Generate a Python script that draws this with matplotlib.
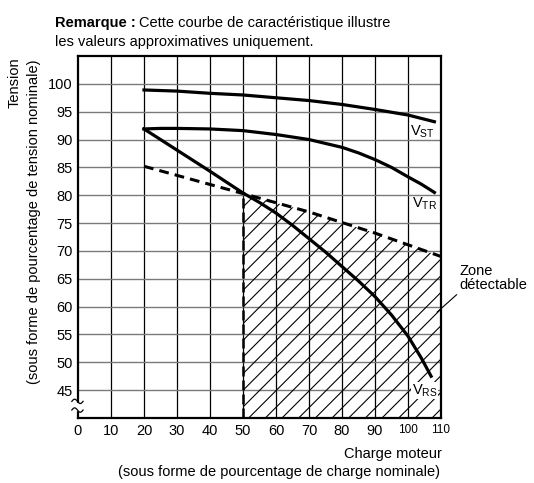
import matplotlib
matplotlib.use("Agg")
import matplotlib.pyplot as plt
import numpy as np

plt.rcParams['font.family'] = ['Liberation Sans', 'DejaVu Sans']
plt.rcParams['hatch.linewidth'] = 0.8

# values (percent of rated load / rated voltage)
st_load = [20, 30, 40, 50, 60, 70, 80, 90, 100, 108]
v_st = [98.9, 98.7, 98.3, 98.0, 97.5, 97.0, 96.3, 95.4, 94.4, 93.2]
tr_load = [20, 25, 30, 40, 50, 60, 70, 80, 85, 90, 95, 100, 104, 108]
v_tr = [91.9, 92.0, 92.0, 91.9, 91.6, 90.9, 90.0, 88.6, 87.6, 86.4, 85.0, 83.3, 82.0, 80.5]
rs_load = [20, 30, 40, 50, 55, 60, 65, 70, 75, 80, 85, 90, 95, 100, 104, 107]
v_rs = [91.9, 88.1, 84.3, 80.4, 78.7, 76.8, 74.6, 72.2, 69.8, 67.2, 64.6, 61.8, 58.5, 54.7,
        50.8, 47.5]
lim_load = [20, 50, 70, 90, 110]
v_lim = [85.2, 80.3, 77.0, 73.2, 69.0]

xticks = [0, 10, 20, 30, 40, 50, 60, 70, 80, 90, 100, 110]
yticks = [45, 50, 55, 60, 65, 70, 75, 80, 85, 90, 95, 100]

FS = 10.5

fig = plt.figure(figsize=(5.34, 4.83), dpi=100)
ax = fig.add_axes([78/534, 65/483, 363/534, 362/483])
ax.set_xlim(0, 110)
ax.set_ylim(40, 105)

for x in xticks[1:-1]:
    ax.axvline(x, color='black', lw=0.9, zorder=1)
for y in yticks:
    ax.axhline(y, color='#7a7a7a', lw=1.0, zorder=1)

# detectable zone
ax.fill_between(lim_load[1:], 40, v_lim[1:], facecolor='none', edgecolor='black',
                hatch='//', lw=0, zorder=2)
ax.plot([50, 50], [40, v_lim[1]], color='black', lw=1.8, dashes=(4, 1.6), zorder=3)
ax.plot(lim_load, v_lim, color='black', lw=2.2, dashes=(3.2, 2.0), zorder=3)

ax.plot(st_load, v_st, color='black', lw=2.3, zorder=4)
ax.plot(tr_load, v_tr, color='black', lw=2.3, zorder=4)
ax.plot(rs_load, v_rs, color='black', lw=2.3, zorder=4)

ax.text(104.3, 91.4, r'V$_\mathregular{ST}$', ha='center', va='center', fontsize=FS, zorder=5)
ax.text(105, 78.5, r'V$_\mathregular{TR}$', ha='center', va='center', fontsize=FS, zorder=5)
ax.text(105, 45, r'V$_\mathregular{RS}$', ha='center', va='center', fontsize=FS, zorder=5,
        bbox=dict(fc='white', ec='none', pad=0.2))

ax.annotate('Zone\ndétectable', xy=(108.8, 59), xytext=(115.6, 62.6),
            ha='left', va='bottom', fontsize=FS, linespacing=1.0,
            annotation_clip=False,
            arrowprops=dict(arrowstyle='-', lw=0.8, color='black', relpos=(0, 0),
                            shrinkA=0, shrinkB=0))

ax.set_xticks(xticks)
ax.set_yticks(yticks)
ax.set_xticklabels([str(v) for v in xticks])
ax.set_yticklabels([str(v) for v in yticks])
ax.tick_params(length=0, labelsize=FS, pad=4)
for lab in ax.get_xticklabels()[-2:]:
    lab.set_fontsize(8.5)
for s in ax.spines.values():
    s.set_linewidth(1.6)

# axis break mark
ax.add_patch(plt.Rectangle((-0.01, 0.022), 0.02, 0.02, transform=ax.transAxes,
                           color='white', clip_on=False, zorder=6))
t = np.linspace(0, 1, 40)
for y0 in (0.046, 0.022):
    ax.plot(-0.017 + 0.031*t, y0 + 0.006*np.sin(2*np.pi*t), color='black', lw=0.9,
            transform=ax.transAxes, clip_on=False, zorder=7)

# notes and axis titles
r = fig.canvas.get_renderer()
t1 = fig.text(55/534, 1-27/483, 'Remarque :', weight='bold', fontsize=FS, va='baseline')
bb = t1.get_window_extent(renderer=r)
fig.text(bb.x1/534 + 3/534, 1-27/483, 'Cette courbe de caractéristique illustre',
         fontsize=FS, va='baseline')
fig.text(55/534, 1-46/483, 'les valeurs approximatives uniquement.', fontsize=FS, va='baseline')

fig.text(15/534, 1-57/483, 'Tension', rotation=90, ha='center', va='top', fontsize=FS)
fig.text(34/534, 1-60/483, '(sous forme de pourcentage de tension nominale)', rotation=90,
         ha='center', va='top', fontsize=FS)
fig.text(442/534, 1-458/483, 'Charge moteur', ha='right', va='baseline', fontsize=FS)
fig.text(440/534, 1-476/483, '(sous forme de pourcentage de charge nominale)', ha='right',
         va='baseline', fontsize=FS)

fig.savefig('out.png', dpi=100)
